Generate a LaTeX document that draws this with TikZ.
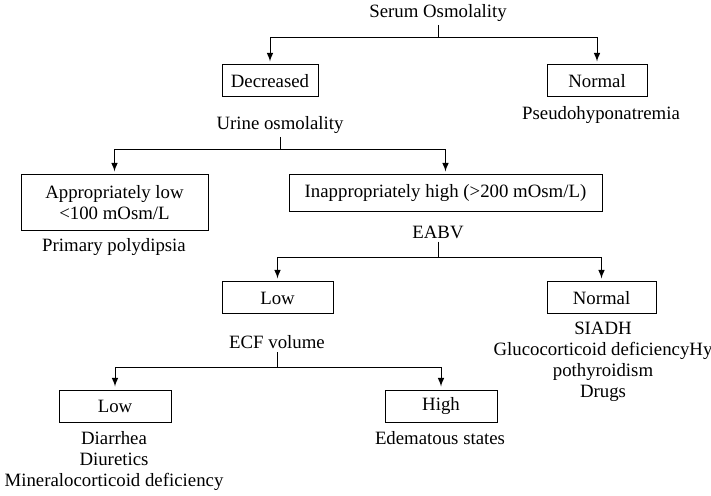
\documentclass[tikz,border=0pt]{standalone}
\usepackage{fontspec}
\setmainfont{Liberation Serif}
\usepackage{tikz}
\usetikzlibrary{positioning, calc}

\tikzset{
	box/.style={draw, line width=0.5pt, minimum height=16pt, inner sep=2pt, align=center},
	lbl/.style={inner sep=1.5pt, align=center},
	link/.style={line width=0.5pt, -latex, shorten >=1.5pt}
}

\begin{document}
\begin{tikzpicture}[x=0.5pt, y=-0.5pt, font=\fontsize{9.4}{10.5}\selectfont]
	\useasboundingbox (0,0) rectangle (711,496);
	
	% serum osmolality
	\node[lbl] (serum) at (438,13) {Serum Osmolality};
	\node[box, minimum width=48pt] (decr) at (270,81) {Decreased};
	\node[box, minimum width=50pt] (norm1) at (597,81) {Normal};
	\node[lbl] (pseudo) at (601,115) {Pseudohyponatremia};
	\coordinate (bar1) at (438,38);
	\draw[link] (serum.south) -- (bar1) -| (decr.north);
	\draw[link] (bar1) -| (norm1.north);
	
	% urine osmolality
	\node[lbl] (urine) at (280,125) {Urine osmolality};
	\node[box, minimum width=93.5pt, minimum height=28pt] (applow) at (114.5,203) {Appropriately low\\<100 mOsm/L};
	\node[box, minimum width=156.5pt, minimum height=18.5pt] (inapp) at (445.5,193.5) {Inappropriately high (>200 mOsm/L)};
	\node[lbl] (primary) at (114,247) {Primary polydipsia};
	\coordinate (bar2) at (280,150);
	\draw[link] (urine.south) -- (bar2) -| (applow.north);
	\draw[link] (bar2) -| (inapp.north);
	
	% eabv
	\node[lbl] (eabv) at (438,232) {EABV};
	\node[box, minimum width=55.5pt] (low1) at (277.5,298) {Low};
	\node[box, minimum width=54.5pt] (norm2) at (601.5,298) {Normal};
	\node[lbl] (causes) at (603,362) {SIADH\\Glucocorticoid deficiencyHy\\pothyroidism\\Drugs};
	\coordinate (bar3) at (438,258);
	\draw[link] (eabv.south) -- (bar3) -| (low1.north);
	\draw[link] (bar3) -| (norm2.north);
	
	% ecf volume
	\node[lbl] (ecf) at (277,342) {ECF volume};
	\node[box, minimum width=56pt] (low2) at (115,406) {Low};
	\node[box, minimum width=56pt] (high) at (441,406) {High};
	\node[lbl] (losses) at (114,461.5) {Diarrhea\\Diuretics\\Mineralocorticoid deficiency};
	\node[lbl] (edema) at (440,438) {Edematous states};
	\coordinate (bar4) at (277,367);
	\draw[link] (ecf.south) -- (bar4) -| (low2.north);
	\draw[link] (bar4) -| (high.north);
\end{tikzpicture}
\end{document}
